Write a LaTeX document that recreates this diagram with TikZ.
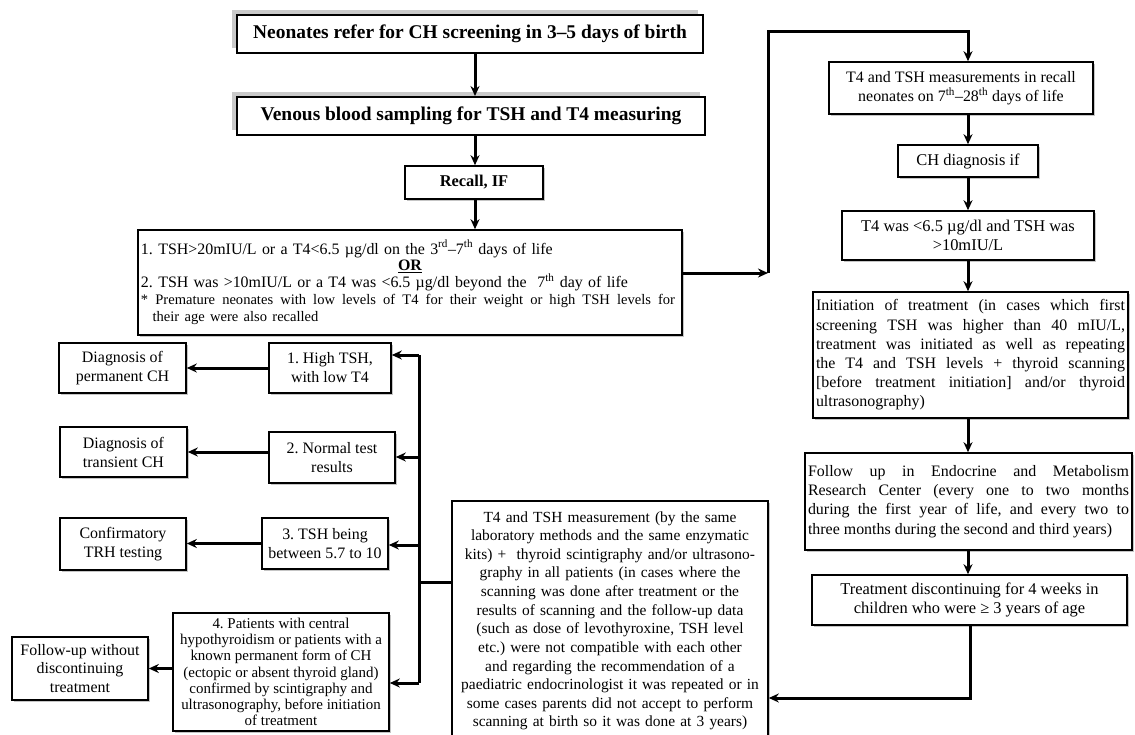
\documentclass[tikz,border=0pt]{standalone}
\usepackage{fontspec}
\setmainfont{Liberation Serif}
\usetikzlibrary{arrows.meta,shadows,calc}
\frenchspacing
\begin{document}
\begin{tikzpicture}[x=1bp,y=-1bp,
  boxbase/.style={draw, line width=1.6bp, fill=white, inner sep=3bp, align=center,
    font=\fontsize{16}{19}\selectfont},
  box/.style={boxbase, drop shadow={shadow xshift=2bp, shadow yshift=-2bp, fill=black!45, opacity=0.5}},
  topbox/.style={boxbase, line width=1.9bp, font=\bfseries\fontsize{19.5}{22}\selectfont,
    drop shadow={shadow xshift=-5bp, shadow yshift=5bp, fill=black!35, opacity=0.6}},
  ln/.style={line width=3bp},
  arr/.style={line width=3bp, -{Stealth[length=10bp,width=9bp]}},
]
\fill[white] (0,0) rectangle (1135,735);
\useasboundingbox (0,0) rectangle (1135,735);

% main column
\node[topbox, minimum width=466bp, minimum height=38bp] (top) at (470,34)
  {Neonates refer for CH screening in 3–5 days of birth};
\node[topbox, minimum width=468bp, minimum height=38bp] (ven) at (471,116)
  {Venous blood sampling for TSH and T4 measuring};
\node[box, font=\bfseries\fontsize{16.5}{18}\selectfont, minimum width=138bp, minimum height=33bp] (rec) at (474,182.5)
  {Recall, IF};
\node[box, text width=538bp, minimum height=105bp, align=left, font=\fontsize{16}{17}\selectfont] (crit) at (410,282.5)
  {1. TSH>20mIU/L or a T4<6.5 µg/dl on the 3\textsuperscript{rd}–7\textsuperscript{th} days of life\\
   \makebox[538bp]{\textbf{\underline{OR}}}\\
   2. TSH was >10mIU/L or a T4 was <6.5 µg/dl beyond the \ 7\textsuperscript{th} day of life\\
   \leavevmode{\fontsize{14.6}{17}\selectfont\hbox to 534bp{\spaceskip=0.25em plus 2em\relax * Premature neonates with low levels of T4 for their weight or high TSH levels for}}\\
   {\fontsize{14.6}{17}\selectfont\hspace*{0.8em}their age were also recalled}};

% right column
\node[box, font=\fontsize{16}{19}\selectfont, minimum width=264bp, minimum height=52bp] (m1) at (961,88)
  {T4 and TSH measurements in recall\\neonates on 7\textsuperscript{th}–28\textsuperscript{th} days of life};
\node[box, font=\fontsize{16.5}{19}\selectfont, minimum width=140bp, minimum height=32bp] (chd) at (968,161)
  {CH diagnosis if};
\node[box, font=\fontsize{16.5}{19}\selectfont, minimum width=252bp, minimum height=49bp] (t4) at (968,235.5)
  {T4 was <6.5 µg/dl and TSH was\\>10mIU/L};
\node[box, font=\fontsize{16}{19.3}\selectfont, text width=309bp, align=justify, minimum height=126bp] (init) at (970.5,355)
  {Initiation of treatment (in cases which first\linebreak{}
   screening TSH was higher than 40 mIU/L,\linebreak{}
   treatment was initiated as well as repeating\linebreak{}
   the T4 and TSH levels + thyroid scanning\linebreak{}
   {[}before treatment initiation{]} and/or thyroid\linebreak{}
   ultrasonography)};
\node[box, font=\fontsize{16}{19.3}\selectfont, text width=321bp, align=justify, minimum height=97bp] (fu) at (968.5,501.5)
  {Follow up in Endocrine and Metabolism\linebreak{}
   Research Center (every one to two months\linebreak{}
   during the first year of life, and every two to\linebreak{}
   three months during the second and third years)};
\node[box, font=\fontsize{16.5}{19}\selectfont, minimum width=315bp, minimum height=50bp] (disc) at (969.5,600)
  {Treatment discontinuing for 4 weeks in\\children who were ≥ 3 years of age};

% middle big box
\node[box, anchor=north, font=\fontsize{15.5}{18.7}\selectfont, text width=310bp, minimum height=240bp] (big) at (610,500)
  {T4 and TSH measurement (by the same\\
   laboratory methods and the same enzymatic\\
   kits) + \ thyroid scintigraphy and/or ultrasono-\\
   graphy in all patients (in cases where the\\
   scanning was done after treatment or the\\
   results of scanning and the follow-up data\\
   (such as dose of levothyroxine, TSH level\\
   etc.) were not compatible with each other\\
   and regarding the recommendation of a\\
   paediatric endocrinologist it was repeated or in\\
   some cases parents did not accept to perform\\
   scanning at birth so it was done at 3 years)};

% left results
\node[box, minimum width=122bp, minimum height=50bp] (h1) at (330,368) {1. High TSH,\\with low T4};
\node[box, minimum width=126bp, minimum height=51bp] (h2) at (332,457.5) {2. Normal test\\results};
\node[box, minimum width=126bp, minimum height=51bp] (h3) at (325,543.5) {3. TSH being\\between 5.7 to 10};
\node[box, font=\fontsize{15}{16.3}\selectfont, minimum width=216bp, minimum height=118bp] (h4) at (281,672)
  {4. Patients with central\\hypothyroidism or patients with a\\known permanent form of CH\\(ectopic or absent thyroid gland)\\confirmed by scintigraphy and\\ultrasonography, before initiation\\of treatment};

\node[box, minimum width=127bp, minimum height=50bp] (d1) at (122.5,368) {Diagnosis of\\permanent CH};
\node[box, minimum width=127bp, minimum height=50bp] (d2) at (123.5,452) {Diagnosis of\\transient CH};
\node[box, minimum width=126bp, minimum height=52bp] (d3) at (123,544) {Confirmatory\\TRH testing};
\node[box, minimum width=136bp, minimum height=63bp] (d4) at (80,668.5) {Follow-up without\\discontinuing\\treatment};

% main column connectors
\coordinate (a1) at (475,0);
\draw[arr] (top.south -| a1) -- (ven.north -| a1);
\draw[arr] (ven.south -| a1) -- (rec.north -| a1);
\draw[arr] (rec.south -| a1) -- (crit.north -| a1);

% link to right column
\coordinate (c1) at (768,273);
\coordinate (c2) at (768,32);
\coordinate (c3) at (968,32);
\draw[arr] (crit.east |- c1) -- (c1);
\draw[arr] (c1) -- (c2) -- (c3) -- (m1.north -| c3);

% right column connectors
\coordinate (rc) at (968,0);
\draw[arr] (m1.south -| rc) -- (chd.north -| rc);
\draw[arr] (chd.south -| rc) -- (t4.north -| rc);
\draw[arr] (t4.south -| rc) -- (init.north -| rc);
\draw[arr] (init.south -| rc) -- (fu.north -| rc);
\draw[arr] (fu.south -| rc) -- (disc.north -| rc);
\coordinate (e1) at (970,698);
\draw[arr] (disc.south -| e1) -- (e1) -- (big.east |- e1);

% left bus
\coordinate (bT) at (419,355);
\coordinate (b2) at (419,457);
\coordinate (b3) at (419,545);
\coordinate (bJ) at (419,582);
\coordinate (bB) at (419,683);
\draw[ln] (bT) -- (bB);
\draw[ln] (big.west |- bJ) -- (bJ);
\draw[arr] (bT) -- (h1.east |- bT);
\draw[arr] (b2) -- (h2.east |- b2);
\draw[arr] (b3) -- (h3.east |- b3);
\draw[arr] (bB) -- (h4.east |- bB);

% outcomes
\draw[arr] (h1.west) -- (d1.east |- h1.west);
\draw[arr] (h2.west |- d2.east) -- (d2.east);
\draw[arr] (h3.west) -- (d3.east |- h3.west);
\draw[arr] (h4.west |- d4.east) -- (d4.east);
\end{tikzpicture}
\end{document}
